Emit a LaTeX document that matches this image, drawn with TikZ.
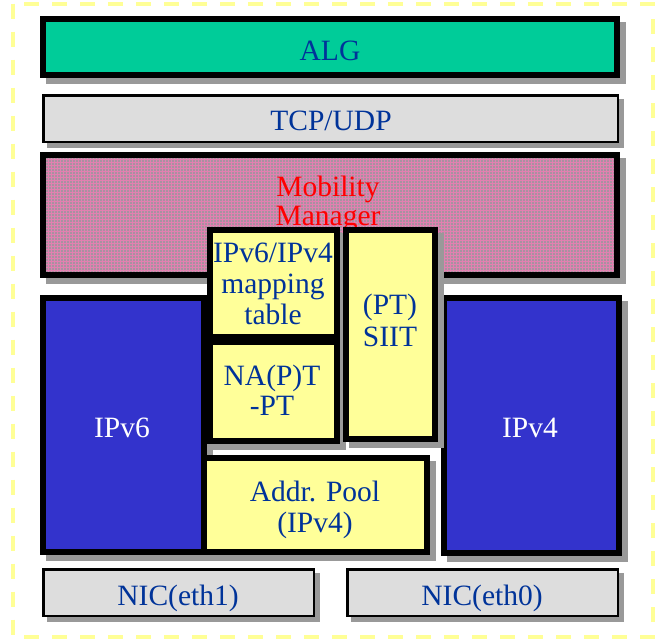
\documentclass[tikz,border=0pt]{standalone}
\usepackage{fontspec}
\setmainfont{Liberation Serif}
\definecolor{algfill}{RGB}{0,204,153}
\definecolor{stackgray}{RGB}{221,221,221}
\definecolor{ipblue}{RGB}{51,51,204}
\definecolor{paleyellow}{RGB}{255,255,153}
\definecolor{shadowgray}{RGB}{153,153,153}
\definecolor{txtblue}{RGB}{0,51,153}
\definecolor{mobbase}{RGB}{168,146,160}
\definecolor{mobgrid}{RGB}{226,128,176}
\definecolor{frameyellow}{RGB}{255,255,150}
\tikzset{
  heavybox/.style={draw=black, line width=6pt, inner sep=0pt, outer sep=0pt},
  lightbox/.style={draw=black, line width=2.5pt, fill=stackgray, inner sep=0pt, outer sep=0pt},
  dropgray/.style={fill=shadowgray},
  tx/.style={text=txtblue, font=\fontsize{29.5}{31}\selectfont, align=center, inner sep=0pt},
}
\begin{document}
\begin{tikzpicture}[x=1pt,y=-1pt]
\useasboundingbox (0,0) rectangle (658,638);

% outer dashed frame
\draw[frameyellow, line width=4pt, dash pattern=on 15pt off 13pt] (13,3.5) rectangle (653,636.5);

% ALG
\fill[dropgray] (46,22) rectangle (626,84);
\node[heavybox, fill=algfill, minimum width=574pt, minimum height=56pt] (alg) at (330,47) {};
\node[tx, anchor=base] (algtext) at (330,60) {ALG};

% TCP/UDP
\fill[dropgray] (47,99) rectangle (624,148);
\node[lightbox, minimum width=574.5pt, minimum height=46.5pt] (tcp) at (330.5,118.5) {};
\node[tx, anchor=base] (tcptext) at (331,130) {TCP/UDP};

% IPv6 and IPv4 stacks
\fill[dropgray] (46,301) rectangle (213,561);
\node[heavybox, fill=ipblue, minimum width=161pt, minimum height=254pt] (ipv6) at (123.5,425) {};
\node[tx, anchor=base, text=white] (ipv6text) at (122,437) {IPv6};

\fill[dropgray] (447,301) rectangle (628,562);
\node[heavybox, fill=ipblue, minimum width=175pt, minimum height=255pt] (ipv4) at (531.5,425.5) {};
\node[tx, anchor=base, text=white] (ipv4text) at (530,437) {IPv4};

% Mobility Manager with its fine grid fill
\fill[dropgray] (46,158) rectangle (626,284);
\node[heavybox, fill=mobbase, minimum width=574pt, minimum height=120pt] (mob) at (330,215) {};
\begin{scope}
  \clip (46,158) rectangle (614,272);
  \draw[mobgrid, line width=1pt, step=3pt] (46,158) grid (614,272);
\end{scope}
\node[tx, text=red, font=\fontsize{29.5}{29}\selectfont] (mobtext) at (328,204) {Mobility\\Manager};

% mapping table
\fill[dropgray] (213,233) rectangle (346,346);
\node[heavybox, fill=paleyellow, minimum width=127pt, minimum height=107pt] (map) at (273.5,283.5) {};
\node[tx] (maptext) at (273,284) {IPv6/IPv4\\mapping\\table};

% NA(P)T-PT
\fill[dropgray] (213,345) rectangle (346,450);
\node[heavybox, fill=paleyellow, minimum width=127pt, minimum height=99pt] (napt) at (273.5,391.5) {};
\node[tx, font=\fontsize{29.5}{30}\selectfont] (napttext) at (272,390) {NA(P)T\\-PT};

% SIIT
\fill[dropgray] (349,233) rectangle (444,448);
\node[heavybox, fill=paleyellow, minimum width=89pt, minimum height=209pt] (siit) at (390.5,334.5) {};
\node[tx, font=\fontsize{29.5}{32}\selectfont] (siittext) at (390,320) {(PT)\\SIIT};

% address pool
\fill[dropgray] (207,461) rectangle (436,561);
\node[heavybox, fill=paleyellow, minimum width=223pt, minimum height=94pt] (pool) at (315.5,505) {};
\node[tx] (pooltext) at (315,510) {Addr. Pool\\(IPv4)};

% network interfaces
\fill[dropgray] (47,573) rectangle (320,622);
\node[lightbox, minimum width=270.5pt, minimum height=46.5pt] (nic1) at (178.5,592.5) {};
\node[tx, anchor=base] (nic1text) at (178,605) {NIC(eth1)};

\fill[dropgray] (351,573) rectangle (624,622);
\node[lightbox, minimum width=270.5pt, minimum height=46.5pt] (nic0) at (482.5,592.5) {};
\node[tx, anchor=base] (nic0text) at (482,605) {NIC(eth0)};
\end{tikzpicture}
\end{document}
